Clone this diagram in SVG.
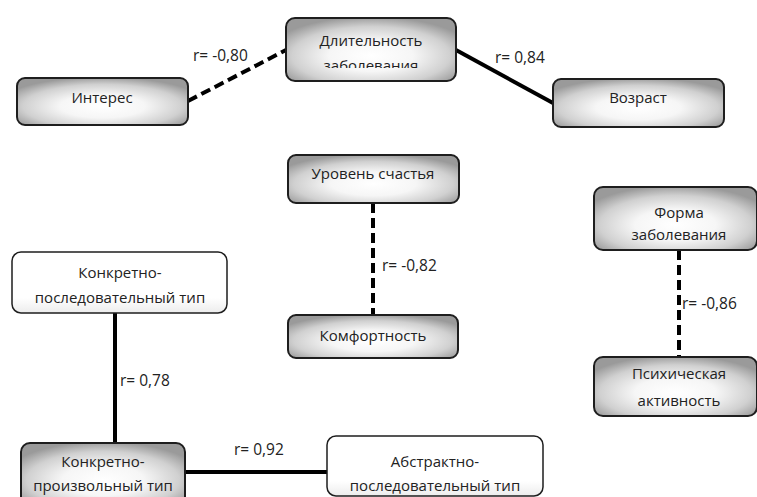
<svg xmlns="http://www.w3.org/2000/svg" width="757" height="497" viewBox="0 0 757 497">
<defs>
<radialGradient id="g" cx="50%" cy="60%" r="62%">
<stop offset="0" stop-color="#ffffff"/>
<stop offset="0.4" stop-color="#f6f6f6"/>
<stop offset="0.75" stop-color="#d0d0d0"/>
<stop offset="1" stop-color="#9a9a9a"/>
</radialGradient>
<linearGradient id="w" x1="0" y1="0" x2="0" y2="1">
<stop offset="0" stop-color="#ffffff"/>
<stop offset="0.75" stop-color="#ffffff"/>
<stop offset="1" stop-color="#ececec"/>
</linearGradient>
<clipPath id="clipD"><rect x="286" y="18" width="170" height="50"/></clipPath>
</defs>
<style>
.n{stroke:#1e1e1e;stroke-width:2;fill:url(#g)}
.nw{stroke:#1e1e1e;stroke-width:1.5;fill:url(#w)}
.t{font-family:"Open Sans","Noto Sans","DejaVu Sans",sans-serif;font-size:15px;fill:#222;text-anchor:middle}
.l{font-family:"Open Sans","Noto Sans","DejaVu Sans",sans-serif;font-size:15.5px;fill:#222}
.s{stroke:#000;stroke-width:4;fill:none}
.d{stroke:#000;stroke-width:4;fill:none;stroke-dasharray:10 5}
</style>
<rect width="757" height="497" fill="#fff"/>
<g id="connectors">
<line class="d" x1="188" y1="101" x2="286" y2="50"/>
<line class="s" x1="456" y1="50" x2="553" y2="103"/>
<line class="d" x1="373" y1="203" x2="373" y2="315"/>
<line class="d" x1="679" y1="250" x2="679" y2="357"/>
<line class="s" x1="115" y1="313" x2="115" y2="443"/>
<line class="s" x1="185" y1="472" x2="327" y2="472"/>
<text class="l" x="193" y="61">r= -0,80</text>
<text class="l" x="495" y="63">r= 0,84</text>
<text class="l" x="382" y="271">r= -0,82</text>
<text class="l" x="682" y="309">r= -0,86</text>
<text class="l" x="120" y="386">r= 0,78</text>
<text class="l" x="234" y="455">r= 0,92</text>
</g>
<g id="dlitelnost">
<rect class="n" x="286" y="18" width="170" height="63" rx="9"/>
<g clip-path="url(#clipD)">
<text class="t" x="371" y="46">Длительность</text>
<text class="t" x="371" y="71">заболевания</text>
</g>
</g>
<g id="interes">
<rect class="n" x="17" y="78" width="171" height="47" rx="8"/>
<text class="t" x="102" y="103">Интерес</text>
</g>
<g id="vozrast">
<rect class="n" x="553" y="79" width="171" height="48" rx="8"/>
<text class="t" x="638" y="103">Возраст</text>
</g>
<g id="uroven">
<rect class="n" x="288" y="155" width="171" height="48" rx="8"/>
<text class="t" x="373" y="179">Уровень счастья</text>
</g>
<g id="komfort">
<rect class="n" x="288" y="315" width="170" height="43" rx="8"/>
<text class="t" x="373" y="341">Комфортность</text>
</g>
<g id="forma">
<rect class="n" x="594" y="187" width="163" height="63" rx="9"/>
<text class="t" x="679" y="218">Форма</text>
<text class="t" x="679" y="240">заболевания</text>
</g>
<g id="psych">
<rect class="n" x="594" y="357" width="163" height="59" rx="9"/>
<text class="t" x="679" y="379">Психическая</text>
<text class="t" x="679" y="406">активность</text>
</g>
<g id="konkr-posl">
<rect class="nw" x="12" y="252" width="215" height="61" rx="9"/>
<text class="t" x="120" y="278">Конкретно-</text>
<text class="t" x="120" y="303">последовательный тип</text>
</g>
<g id="konkr-proizv">
<rect class="n" x="21" y="443" width="164" height="62" rx="9"/>
<text class="t" x="103" y="467">Конкретно-</text>
<text class="t" x="103" y="491">произвольный тип</text>
</g>
<g id="abstr-posl">
<rect class="nw" x="327" y="436" width="216" height="60" rx="9"/>
<text class="t" x="435" y="467">Абстрактно-</text>
<text class="t" x="435" y="491">последовательный тип</text>
</g>
</svg>
